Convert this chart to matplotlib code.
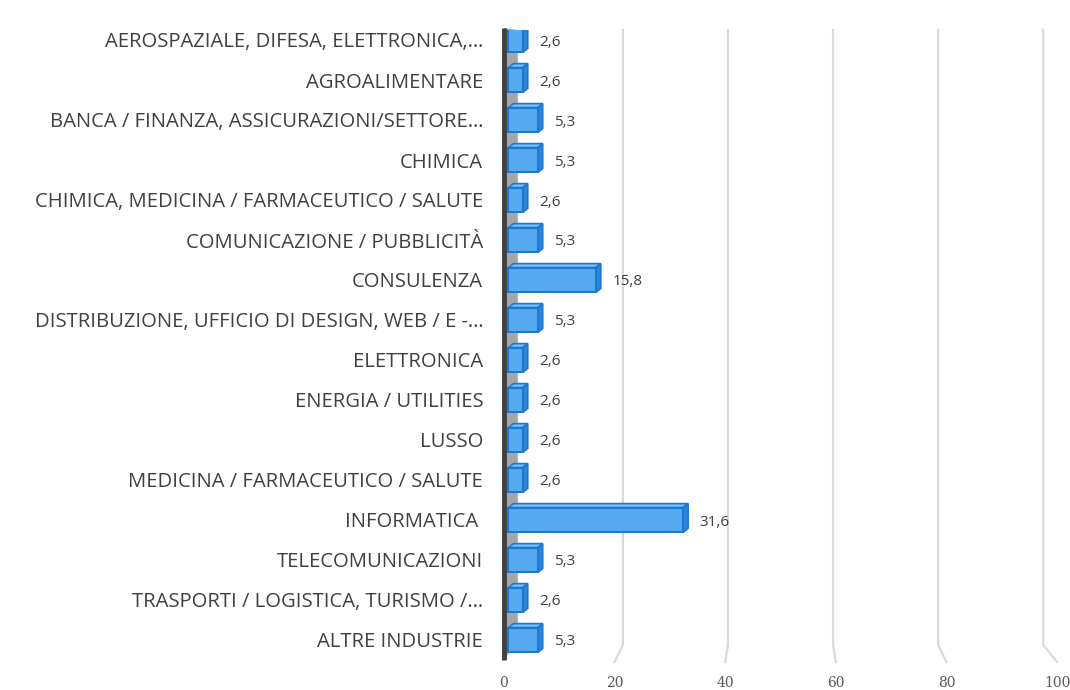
import matplotlib
matplotlib.use("Agg")

import matplotlib.pyplot as plt
from matplotlib.patches import Polygon

categories = [
    "AEROSPAZIALE, DIFESA, ELETTRONICA,…",
    "AGROALIMENTARE",
    "BANCA / FINANZA, ASSICURAZIONI/SETTORE…",
    "CHIMICA",
    "CHIMICA, MEDICINA / FARMACEUTICO / SALUTE",
    "COMUNICAZIONE / PUBBLICITÀ",
    "CONSULENZA",
    "DISTRIBUZIONE, UFFICIO DI DESIGN, WEB / E -…",
    "ELETTRONICA",
    "ENERGIA / UTILITIES",
    "LUSSO",
    "MEDICINA / FARMACEUTICO / SALUTE",
    "INFORMATICA ",
    "TELECOMUNICAZIONI",
    "TRASPORTI / LOGISTICA, TURISMO /…",
    "ALTRE INDUSTRIE",
]
values = [2.6, 2.6, 5.3, 5.3, 2.6, 5.3, 15.8, 5.3, 2.6, 2.6, 2.6, 2.6, 31.6, 5.3, 2.6, 5.3]
value_labels = ["2,6", "2,6", "5,3", "5,3", "2,6", "5,3", "15,8", "5,3",
                "2,6", "2,6", "2,6", "2,6", "31,6", "5,3", "2,6", "5,3"]
x_ticks = [0, 20, 40, 60, 80, 100]

# fake 3d look
BAR_LEFT = 0.8
BAR_H = 0.62
DX, DY = 0.9, -0.1
Y_TOP, Y_BACK_BOTTOM, Y_FRONT_BOTTOM = -0.25, 15.12, 15.55


def back_x(v):
    return 2.5 + 0.95 * v


FRONT = "#57aaef"
EDGE = "#1d78d2"
TOP = "#7cbcf2"
SIDE = "#2e86d8"

fig = plt.figure(figsize=(10.7, 6.9), dpi=100)
ax = fig.add_axes([504 / 1070, 1 - 662 / 690, 553 / 1070, 632 / 690])
ax.set_xlim(0, 100)
ax.set_ylim(Y_FRONT_BOTTOM, Y_TOP)
for s in ax.spines.values():
    s.set_visible(False)

# back wall gridlines with floor bend
for t in x_ticks[1:]:
    bx = back_x(t)
    ax.plot([bx, bx, t], [Y_TOP, Y_BACK_BOTTOM, Y_FRONT_BOTTOM],
            color="#d9d9d9", lw=1.6, zorder=1, clip_on=False)

# left wall
ax.add_patch(Polygon([(0, Y_TOP - 0.05), (back_x(0), Y_TOP), (back_x(0), Y_BACK_BOTTOM),
                      (0, Y_FRONT_BOTTOM - 0.1)], closed=True, facecolor="#a6a6a6",
                     edgecolor="none", zorder=1, clip_on=False))
ax.plot([0, 0], [Y_TOP - 0.05, Y_FRONT_BOTTOM - 0.05], color="#404040", lw=3.5,
        zorder=2, clip_on=False, solid_capstyle="butt")

ys = list(range(len(categories)))
for y, v, lab in zip(ys, values, value_labels):
    top = y - BAR_H / 2
    bot = y + BAR_H / 2
    right = BAR_LEFT + v
    ax.add_patch(Polygon([(BAR_LEFT, top), (BAR_LEFT + DX, top + DY), (right + DX, top + DY), (right, top)],
                         closed=True, facecolor=TOP, edgecolor=EDGE, lw=1.2, zorder=3))
    ax.add_patch(Polygon([(right, top), (right + DX, top + DY), (right + DX, bot + DY), (right, bot)],
                         closed=True, facecolor=SIDE, edgecolor=EDGE, lw=1.2, zorder=3))
    ax.text(right + DX + 2.1, y + 0.05, lab, ha="left", va="center",
            fontsize=11, color="#404040", family="Open Sans", zorder=5)

ax.barh(ys, values, left=BAR_LEFT, height=BAR_H, color=FRONT, edgecolor=EDGE,
        linewidth=1.5, zorder=4)

ax.set_yticks(ys)
ax.set_yticklabels(categories, fontsize=14.6, color="#404040", family="Open Sans")
ax.tick_params(axis="y", length=0, pad=15)

ax.set_xticks(x_ticks)
ax.set_xticklabels([str(t) for t in x_ticks], fontsize=10, color="#595959",
                   family="DejaVu Serif")
ax.tick_params(axis="x", length=0, pad=10)

fig.savefig("out.png", dpi=100)
